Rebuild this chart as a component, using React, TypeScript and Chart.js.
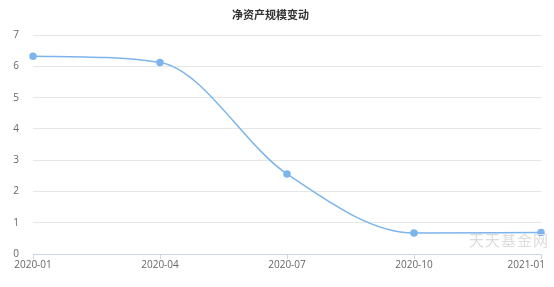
import React, { useEffect, useRef } from "react";
import { Chart, registerables } from "chart.js";

Chart.register(...registerables);

const categories = ["2020-01", "2020-04", "2020-07", "2020-10", "2021-01"];
const netAssets = [6.33, 6.13, 2.56, 0.67, 0.69];
const yTicks = [0, 1, 2, 3, 4, 5, 6, 7];
const title = "净资产规模变动";
const watermark = "天天基金网";

const xLabelFont = "10px 'Open Sans', sans-serif";

const xLabelPlugin = {
  id: "xLabels",
  afterDraw(chart: any) {
    const s = chart.scales.x;
    const ctx = chart.ctx;
    ctx.save();
    ctx.font = xLabelFont;
    ctx.fillStyle = "#666";
    ctx.textBaseline = "top";
    ctx.textAlign = "left";
    const maxRight = chart.width - 9;
    categories.forEach((label, i) => {
      const x = s.getPixelForTick(i);
      const w = ctx.measureText(label).width;
      let left = x - w / 2;
      if (left + w > maxRight) left = maxRight - w;
      ctx.fillText(label, left, s.top + 6);
    });
    ctx.restore();
  },
};

export default function App() {
  const ref = useRef<HTMLCanvasElement>(null);
  useEffect(() => {
    document.body.style.margin = "0";
    const chart = new Chart(ref.current!, {
      type: "line",
      data: {
        labels: categories,
        datasets: [
          {
            data: netAssets,
            borderColor: "#7cb5ec",
            backgroundColor: "#7cb5ec",
            borderWidth: 1.5,
            pointRadius: 3,
            pointBackgroundColor: "#7cb5ec",
            pointBorderColor: "#7cb5ec",
            cubicInterpolationMode: "monotone",
            fill: false,
          },
        ],
      },
      plugins: [xLabelPlugin],
      options: {
        responsive: false,
        animation: false,
        layout: { padding: { left: 0, right: 13, top: 0, bottom: 12 } },
        plugins: {
          legend: { display: false },
          tooltip: { enabled: false },
          title: {
            display: true,
            text: title,
            color: "#333",
            font: { family: "'Noto Sans CJK SC', sans-serif", size: 11, weight: "bold" },
            padding: { top: 8, bottom: 14 },
          },
        },
        scales: {
          x: {
            offset: false,
            afterFit: (s: any) => {
              s.paddingLeft = 0;
              s.paddingRight = 0;
            },
            grid: { drawOnChartArea: false, drawTicks: true, tickLength: 5, color: "#ccd6eb" },
            border: { color: "#ccd6eb" },
            ticks: {
              color: "rgba(0,0,0,0)",
              font: { family: "'Open Sans', sans-serif", size: 10 },
              padding: 2,
              maxRotation: 0,
              autoSkip: false,
            },
          },
          y: {
            min: 0,
            max: 7,
            afterFit: (s: any) => {
              s.width = 33;
            },
            afterBuildTicks: (s: any) => {
              s.ticks = yTicks.map((v) => ({ value: v }));
            },
            grid: { color: "#e6e6e6", drawTicks: false },
            border: { display: false },
            ticks: {
              color: "#666",
              font: { family: "'Open Sans', sans-serif", size: 10 },
              padding: 14,
            },
          },
        },
      },
    });
    return () => chart.destroy();
  }, []);
  return (
    <div style={{ position: "relative", width: 554, height: 287 }}>
      <canvas ref={ref} width={554} height={287} style={{ display: "block" }} />
      <div
        style={{
          position: "absolute",
          left: 469,
          top: 231,
          fontFamily: "'Noto Sans CJK SC', sans-serif",
          fontSize: 15,
          color: "#dcdcdc",
          letterSpacing: 1,
          lineHeight: "18px",
          pointerEvents: "none",
        }}
      >
        {watermark}
      </div>
    </div>
  );
}
